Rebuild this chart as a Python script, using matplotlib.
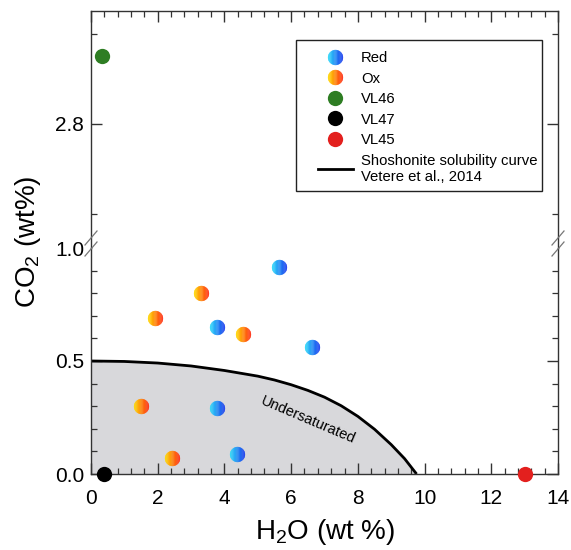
import numpy as np
import matplotlib
matplotlib.use("Agg")
import matplotlib.pyplot as plt
from matplotlib.path import Path
from matplotlib.lines import Line2D
from matplotlib.patches import Rectangle
from matplotlib.legend_handler import HandlerTuple
from matplotlib.ticker import MultipleLocator, FixedLocator

plt.rcParams['font.family'] = ['Liberation Sans', 'DejaVu Sans']
plt.rcParams['mathtext.fontset'] = 'custom'
plt.rcParams['mathtext.rm'] = 'Liberation Sans'

# ---------------- data ----------------
red_x = [5.64, 3.79, 6.63, 3.79, 4.37]
red_y = [0.917, 0.65, 0.56, 0.29, 0.09]
ox_x = [3.30, 1.92, 4.56, 1.50, 2.43]
ox_y = [0.80, 0.69, 0.62, 0.30, 0.07]
vl46_x, vl46_y = [0.32], [3.10]
vl47_x, vl47_y = [0.40], [0.0]
vl45_x, vl45_y = [13.01], [0.0]
curve_x = [0, 1, 2, 3, 4, 5, 5.5, 6, 6.5, 7, 7.5, 8, 8.5, 9, 9.4, 9.76]
curve_y = [0.5, 0.498, 0.491, 0.478, 0.458, 0.433, 0.416, 0.395, 0.37, 0.34, 0.302, 0.255,
           0.198, 0.13, 0.068, 0.0]
x_ticks = [0, 2, 4, 6, 8, 10, 12, 14]
y_ticks_low = [0.0, 0.5, 1.0]
y_ticks_up = [2.8]

W, H = 571, 550
fig = plt.figure(figsize=(W / 100, H / 100), dpi=100)

def fx(px):
    return px / W

def fy(py):
    return 1 - py / H

L, R, T, B, MID = 91, 558, 11, 474, 248
ax_lo = fig.add_axes([fx(L), fy(B), fx(R) - fx(L), fy(MID) - fy(B)])
ax_up = fig.add_axes([fx(L), fy(MID), fx(R) - fx(L), fy(T) - fy(MID)], sharex=ax_lo)

spine_col = '#333333'
for ax in (ax_lo, ax_up):
    for s in ax.spines.values():
        s.set_color(spine_col)
        s.set_linewidth(1.0)
    ax.set_xlim(0, 14)
    ax.tick_params(which='both', direction='in', top=True, right=True, color=spine_col,
                   labelsize=15, pad=5)
    ax.tick_params(which='major', length=8, width=1.0)
    ax.tick_params(which='minor', length=4.5, width=0.9)
    ax.xaxis.set_minor_locator(MultipleLocator(0.4))
    ax.xaxis.set_major_locator(FixedLocator(x_ticks))

ax_lo.spines['top'].set_visible(False)
ax_up.spines['bottom'].set_visible(False)
ax_lo.tick_params(axis='x', top=False, which='both')
ax_up.tick_params(axis='x', bottom=False, labelbottom=False, which='both')
ax_up.tick_params(axis='x', labeltop=False)

ax_lo.set_ylim(0, 1.0)
ax_lo.yaxis.set_major_locator(FixedLocator(y_ticks_low))
ax_lo.yaxis.set_minor_locator(FixedLocator([0.1, 0.2, 0.3, 0.4, 0.6, 0.7, 0.8, 0.9]))
ax_lo.set_yticklabels(['0.0', '0.5', '1.0'])
ax_up.set_ylim(2.25, 3.30)
ax_up.yaxis.set_major_locator(FixedLocator(y_ticks_up))
ax_up.yaxis.set_minor_locator(FixedLocator([2.4, 3.2]))
ax_up.set_yticklabels(['2.8'])
ax_lo.set_xticklabels([str(t) for t in x_ticks])
ax_lo.tick_params(axis='x', pad=11)

fig.canvas.draw()
t = ax_lo.yaxis.get_major_ticks()[2]
t.tick1line.set_visible(False)
t.tick2line.set_visible(False)

# fill + curve
ax_lo.fill_between(curve_x, curve_y, 0, color='#d8d8db', zorder=1, lw=0)
ax_lo.plot(curve_x, curve_y, color='black', lw=2.0, zorder=2, solid_capstyle='butt')
ax_lo.text(6.5, 0.24, 'Undersaturated', rotation=-23, fontsize=10.5, ha='center', va='center',
           zorder=3)

# gradient marker strips
NSTRIP = 18

def strip_paths(n=NSTRIP):
    paths = []
    for i in range(n):
        x0 = max(-1.0, -1 + 2 * i / n - 0.02)
        x1 = min(1.0, -1 + 2 * (i + 1) / n + 0.02)
        xs = np.linspace(x0, x1, 10)
        up = np.sqrt(np.clip(1 - xs ** 2, 0, None))
        verts = [(1.0, 1.0)]
        codes = [Path.MOVETO]
        pts = list(zip(xs, up)) + list(zip(xs[::-1], -up[::-1]))
        verts += pts + [pts[0]]
        codes += [Path.MOVETO] + [Path.LINETO] * (len(pts) - 1) + [Path.CLOSEPOLY]
        paths.append(Path(np.array(verts), codes))
    return paths

STRIPS = strip_paths()

def grad_colors(c0, c1, n=NSTRIP):
    c0 = np.array(matplotlib.colors.to_rgb(c0))
    c1 = np.array(matplotlib.colors.to_rgb(c1))
    return [tuple(c0 + (c1 - c0) * (i + 0.5) / n) for i in range(n)]

RED_C = grad_colors('#2ee0fa', '#1a3aee')
OX_C = grad_colors('#ffe000', '#ff2a14')
MS = 11.0

def grad_scatter(ax, xs, ys, cols):
    for p, c in zip(STRIPS, cols):
        ax.scatter(xs, ys, s=MS ** 2, marker=p, color=c, linewidths=0, zorder=5, clip_on=False)

grad_scatter(ax_lo, red_x, red_y, RED_C)
grad_scatter(ax_lo, ox_x, ox_y, OX_C)
ax_up.scatter(vl46_x, vl46_y, s=MS ** 2, color='#2e7d23', linewidths=0, zorder=5)
ax_lo.scatter(vl47_x, vl47_y, s=MS ** 2, color='black', linewidths=0, zorder=6, clip_on=False)
ax_lo.scatter(vl45_x, vl45_y, s=MS ** 2, color='#e3201e', linewidths=0, zorder=6, clip_on=False)

# break marks
for px in (L, R):
    for py in (238, 249):
        fig.add_artist(Line2D([fx(px - 6), fx(px + 6)], [fy(py + 7), fy(py - 7)],
                              color='#777777', lw=0.9))

# legend
def grad_handle(cols):
    return tuple(Line2D([], [], ls='none', marker=p, markersize=MS, color=c, markeredgewidth=0)
                 for p, c in zip(STRIPS, cols))

handles = [grad_handle(RED_C), grad_handle(OX_C),
           Line2D([], [], ls='none', marker='o', markersize=MS, color='#2e7d23', markeredgewidth=0),
           Line2D([], [], ls='none', marker='o', markersize=MS, color='black', markeredgewidth=0),
           Line2D([], [], ls='none', marker='o', markersize=MS, color='#e3201e', markeredgewidth=0),
           Line2D([], [], color='black', lw=2.0)]
labels = ['Red', 'Ox', 'VL46', 'VL47', 'VL45', 'Shoshonite solubility curve\nVetere et al., 2014']
leg = fig.legend(handles, labels, loc='upper left', bbox_to_anchor=(fx(318), fy(51)),
                 frameon=False, fontsize=10.7, handlelength=2.35, handletextpad=0.55,
                 labelspacing=0.44, borderpad=0, borderaxespad=0,
                 handler_map={tuple: HandlerTuple(ndivide=1, pad=0)})
fig.add_artist(Rectangle((fx(296), fy(191)), fx(542) - fx(296), fy(40) - fy(191),
                         transform=fig.transFigure, fill=False, edgecolor='#222222', lw=1.0))

# axis labels
fig.text(fx(28), fy(242), r'CO$_\mathrm{2}$ (wt%)', rotation=90, fontsize=20,
         ha='center', va='center')
fig.text(fx(325), fy(532), r'H$_\mathrm{2}$O (wt %)', fontsize=20, ha='center', va='center')

fig.savefig('out.png', dpi=100)
